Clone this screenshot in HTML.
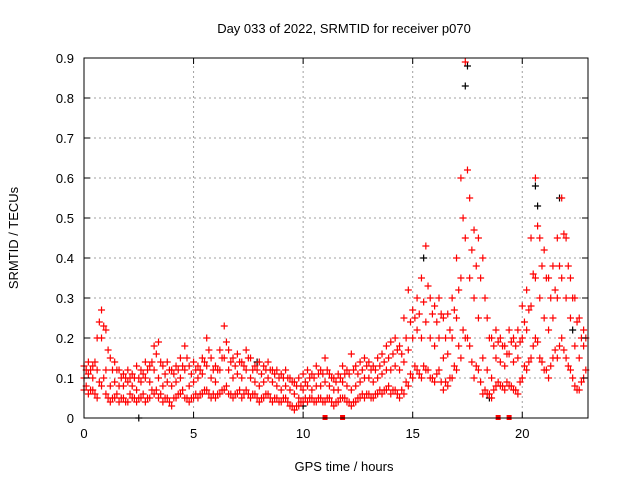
<!DOCTYPE html>
<html><head><meta charset="utf-8"><style>
body{margin:0;background:#fff;width:640px;height:480px;overflow:hidden}
svg text{font-family:"Liberation Sans",sans-serif;font-size:13px;fill:#000}
</style></head><body>
<svg id="chart" width="640" height="480" xmlns="http://www.w3.org/2000/svg">
<text x="344" y="33" text-anchor="middle">Day 033 of 2022, SRMTID for receiver p070</text>
<text x="344" y="471" text-anchor="middle">GPS time / hours</text>
<text x="18" y="238" text-anchor="middle" transform="rotate(-90 18 238)">SRMTID / TECUs</text>
<g id="grid"></g><g id="marks"></g><g id="axes"></g>
</svg>
<script>
const hours=[0,0.2,0.4,0.6,0.8,1,1.2,1.4,1.6,1.8,2,2.2,2.4,2.6,2.8,3,3.2,3.4,3.6,3.8,4,4.2,4.4,4.6,4.8,5,5.2,5.4,5.6,5.8,6,6.2,6.4,6.6,6.8,7,7.2,7.4,7.6,7.8,8,8.2,8.4,8.6,8.8,9,9.2,9.4,9.6,9.8,10,10.2,10.4,10.6,10.8,11,11.2,11.4,11.6,11.8,12,12.2,12.4,12.6,12.8,13,13.2,13.4,13.6,13.8,14,14.2,14.4,14.6,14.8,15,15.2,15.4,15.6,15.8,16,16.2,16.4,16.6,16.8,17,17.2,17.4,17.6,17.8,18,18.2,18.4,18.6,18.8,19,19.2,19.4,19.6,19.8,20,20.2,20.4,20.6,20.8,21,21.2,21.4,21.6,21.8,22,22.2,22.4,22.6,22.8];
const hoursB=[0.1,0.3,0.5,0.7,0.9,1.1,1.3,1.5,1.7,1.9,2.1,2.3,2.5,2.7,2.9,3.1,3.3,3.5,3.7,3.9,4.1,4.3,4.5,4.7,4.9,5.1,5.3,5.5,5.7,5.9,6.1,6.3,6.5,6.7,6.9,7.1,7.3,7.5,7.7,7.9,8.1,8.3,8.5,8.7,8.9,9.1,9.3,9.5,9.7,9.9,10.1,10.3,10.5,10.7,10.9,11.1,11.3,11.5,11.7,11.9,12.1,12.3,12.5,12.7,12.9,13.1,13.3,13.5,13.7,13.9,14.1,14.3,14.5,14.7,14.9,15.1,15.3,15.5,15.7,15.9,16.1,16.3,16.5,16.7,16.9,17.1,17.3,17.5,17.7,17.9,18.1,18.3,18.5,18.7,18.9,19.1,19.3,19.5,19.7,19.9,20.1,20.3,20.5,20.7,20.9,21.1,21.3,21.5,21.7,21.9,22.1,22.3,22.5,22.7,22.9];
const lows=[.07,.06,.07,.05,.08,.06,.04,.05,.04,.05,.04,.05,.04,.05,.04,.05,.06,.05,.04,.05,.03,.05,.06,.05,.04,.05,.05,.06,.07,.05,.05,.06,.07,.06,.05,.06,.05,.07,.05,.06,.04,.05,.06,.04,.05,.04,.05,.03,.02,.03,.04,.04,.05,.04,.05,.04,.05,.03,.04,.05,.04,.03,.04,.05,.05,.06,.05,.06,.06,.07,.06,.07,.05,.06,.08,.1,.12,.1,.12,.1,.09,.12,.07,.08,.1,.12,.15,.2,.18,.1,.12,.06,.06,.05,.08,.08,.07,.08,.07,.06,.1,.12,.15,.2,.15,.12,.1,.15,.15,.2,.15,.12,.08,.07,.1];
const mids=[.1,.11,.1,.12,.2,.12,.08,.09,.08,.08,.09,.08,.07,.09,.1,.09,.12,.1,.08,.09,.08,.09,.1,.12,.08,.09,.1,.11,.13,.1,.09,.12,.15,.12,.1,.11,.1,.12,.1,.09,.08,.09,.1,.09,.08,.07,.08,.07,.06,.05,.07,.08,.07,.08,.08,.09,.08,.07,.07,.09,.08,.07,.08,.09,.1,.1,.09,.1,.11,.12,.12,.13,.12,.14,.17,.2,.22,.2,.24,.2,.18,.2,.15,.16,.2,.25,.35,.45,.35,.3,.25,.15,.12,.1,.15,.14,.13,.16,.14,.15,.2,.22,.28,.35,.3,.25,.22,.25,.3,.35,.3,.25,.18,.15,.18];
const highs=[.13,.14,.13,.2,.27,.22,.15,.14,.12,.11,.12,.11,.13,.12,.14,.13,.18,.19,.13,.14,.12,.13,.15,.18,.13,.14,.13,.15,.2,.15,.13,.17,.23,.17,.15,.16,.14,.17,.15,.13,.14,.13,.14,.12,.12,.11,.12,.1,.09,.1,.11,.12,.11,.13,.12,.15,.11,.1,.11,.13,.12,.16,.13,.14,.15,.14,.13,.15,.16,.18,.19,.2,.18,.25,.32,.27,.3,.35,.43,.3,.28,.3,.25,.26,.3,.4,.6,.89,.55,.47,.45,.4,.25,.2,.22,.2,.18,.22,.2,.22,.28,.32,.45,.6,.45,.42,.35,.38,.45,.55,.45,.35,.3,.25,.22];
const lowsB=[.08,.07,.06,.09,.1,.05,.05,.06,.05,.04,.06,.05,.05,.06,.05,.07,.07,.06,.05,.04,.05,.06,.07,.05,.05,.06,.06,.07,.06,.06,.06,.07,.08,.06,.06,.07,.06,.06,.06,.05,.05,.06,.05,.05,.04,.05,.04,.03,.03,.04,.05,.05,.04,.05,.04,.05,.04,.04,.05,.05,.04,.04,.05,.06,.06,.05,.06,.07,.07,.08,.07,.06,.07,.09,.11,.13,.11,.13,.12,.1,.11,.09,.09,.1,.13,.18,.22,.2,.14,.13,.09,.07,.06,.07,.09,.08,.09,.08,.07,.09,.13,.14,.18,.19,.14,.12,.13,.17,.18,.17,.13,.1,.07,.09,.12];
const highsB=[.12,.12,.14,.24,.23,.17,.12,.12,.1,.1,.1,.1,.1,.11,.12,.14,.16,.14,.11,.12,.11,.12,.13,.15,.11,.12,.12,.14,.17,.12,.12,.15,.19,.14,.13,.14,.13,.15,.12,.12,.11,.12,.12,.11,.1,.1,.1,.09,.08,.08,.09,.1,.1,.11,.11,.12,.1,.09,.1,.11,.11,.12,.11,.12,.13,.12,.12,.13,.14,.15,.16,.17,.16,.2,.24,.25,.26,.29,.33,.26,.24,.26,.2,.22,.27,.32,.5,.62,.42,.38,.35,.3,.2,.18,.19,.18,.16,.19,.18,.19,.24,.27,.36,.48,.38,.35,.3,.32,.38,.46,.38,.3,.24,.2,.2];
const blackHours=[2.5,7.9,10,15.5,17.4,17.5,18.5,20.6,20.7,21.7,22.3];
const blackVals=[0.0,0.14,0.03,0.4,0.83,0.88,0.05,0.58,0.53,0.55,0.22];
const zeroHours=[11,11.8,18.9,19.4];
const xTicks=[0,5,10,15,20];
const yTicks=[0,0.1,0.2,0.3,0.4,0.5,0.6,0.7,0.8,0.9];
const X0=84,X1=588,Y0=418,Y1=58,XMAX=23.0;
const sx=v=>X0+v/XMAX*(X1-X0), sy=v=>Y0-v/0.9*(Y0-Y1);
const NS="http://www.w3.org/2000/svg";
function mk(tag,parent,attrs){const e=document.createElementNS(NS,tag);for(const k in attrs)e.setAttribute(k,attrs[k]);parent.appendChild(e);return e;}
const grid=document.getElementById('grid'),marks=document.getElementById('marks'),axes=document.getElementById('axes');
xTicks.forEach(t=>{const x=sx(t);
 const g=mk('line',grid,{x1:x,x2:x,y1:Y0,y2:Y1,stroke:'#a0a0a0','stroke-dasharray':'2,3','stroke-width':1});
 
 mk('line',axes,{x1:x,x2:x,y1:Y0,y2:Y0-6,stroke:'#000'});mk('line',axes,{x1:x,x2:x,y1:Y1,y2:Y1+6,stroke:'#000'});
 const tx=mk('text',axes,{x:x,y:Y0+20,'text-anchor':'middle'});tx.textContent=t;
 });
yTicks.forEach(t=>{const y=sy(t);
 const g=mk('line',grid,{x1:X0,x2:X1,y1:y,y2:y,stroke:'#a0a0a0','stroke-dasharray':'2,3','stroke-width':1});
 
 mk('line',axes,{x1:X0,x2:X0+6,y1:y,y2:y,stroke:'#000'});mk('line',axes,{x1:X1,x2:X1-6,y1:y,y2:y,stroke:'#000'});
 const tx=mk('text',axes,{x:X0-10,y:y+5,'text-anchor':'end'});tx.textContent=t===0?'0':t.toFixed(1);
 });
const fr=mk('rect',axes,{x:X0,y:Y1,width:X1-X0,height:Y0-Y1,fill:'none',stroke:'#000'});

function plus(h,v,c){const x=sx(h),y=sy(v);
 const p=mk('path',marks,{d:`M${x-3.5},${y}H${x+3.5}M${x},${y-3.5}V${y+3.5}`,stroke:c,'stroke-width':1.2,fill:'none'});
 }
blackHours.forEach((h,i)=>plus(h,blackVals[i],'#000'));
hours.forEach((h,i)=>{plus(h,lows[i],'#f00');plus(h,mids[i],'#f00');plus(h,highs[i],'#f00');});
hoursB.forEach((h,i)=>{plus(h,lowsB[i],'#f00');plus(h,highsB[i],'#f00');});
zeroHours.forEach(h=>{const r=mk('rect',marks,{x:sx(h)-2.5,y:Y0-3,width:5,height:5,fill:'#f00'});
 });
</script>
</body></html>
